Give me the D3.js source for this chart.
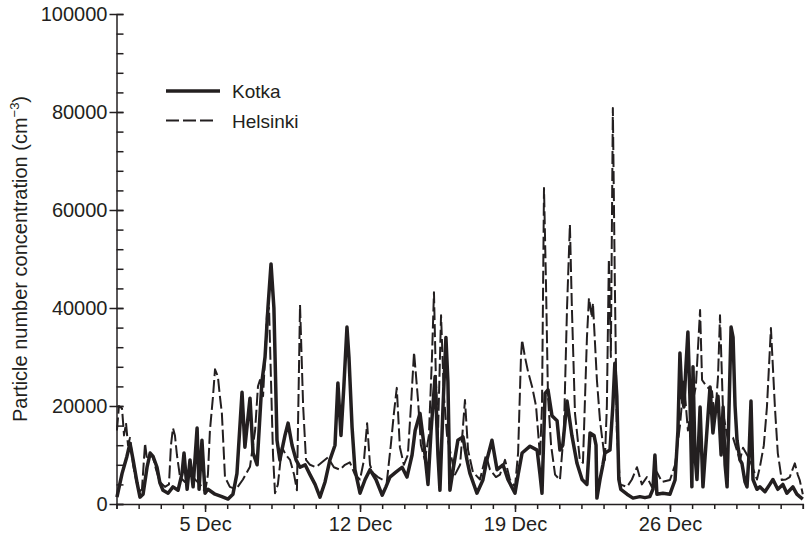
<!DOCTYPE html>
<html>
<head>
<meta charset="utf-8">
<script src="https://d3js.org/d3.v7.min.js"></script>
<style>
    body { margin: 0; background: #fff; }
    svg text { font-family: "Liberation Sans", Arial, sans-serif; fill: #231f20; }
    .axis path, .axis line { stroke: #231f20; stroke-width: 1.5; }
    .axis text { font-size: 20px; }
    .line { fill: none; stroke: #231f20; stroke-linejoin: round; }
    .kotka { stroke-width: 3.5; }
    .helsinki { stroke-width: 2; stroke-dasharray: 13, 4; }
</style>
</head>
<body>
<div id="chart"></div>
<script>
// time in days since 1 Dec 00:00, values in cm-3
let kotkaDays = [
    0.02, 0.25, 0.47, 0.61, 0.75, 0.93, 1.06, 1.20, 1.38, 1.52,
    1.65, 1.83, 1.96, 2.10, 2.33, 2.55, 2.78, 2.96, 3.05, 3.19,
    3.32, 3.46, 3.64, 3.73, 3.86, 4.00, 4.13, 4.45, 4.76, 5.04,
    5.26, 5.44, 5.67, 5.80, 6.03, 6.17, 6.35, 6.57, 6.71, 6.84,
    6.98, 7.11, 7.25, 7.38, 7.61, 7.75, 7.93, 8.11, 8.29, 8.52,
    8.74, 8.97, 9.19, 9.42, 9.64, 9.87, 10.00, 10.14, 10.27, 10.41,
    10.50, 10.64, 10.77, 11.00, 11.23, 11.45, 11.72, 12.00, 12.17, 12.35,
    12.62, 12.90, 13.12, 13.35, 13.49, 13.71, 13.89, 14.07, 14.21, 14.39,
    14.52, 14.61, 14.75, 14.88, 14.97, 15.06, 15.24, 15.42, 15.65, 15.83,
    15.96, 16.28, 16.55, 16.73, 16.96, 17.19, 17.46, 17.68, 18.00, 18.14,
    18.32, 18.68, 19.00, 19.13, 19.22, 19.36, 19.49, 19.67, 19.90, 20.03,
    20.16, 20.35, 20.57, 20.80, 21.03, 21.25, 21.39, 21.57, 21.66, 21.70,
    21.84, 21.97, 22.06, 22.29, 22.42, 22.51, 22.60, 22.69, 22.78, 23.06,
    23.33, 23.64, 23.87, 24.09, 24.23, 24.32, 24.41, 24.68, 25.00, 25.23,
    25.36, 25.45, 25.54, 25.63, 25.72, 25.81, 25.90, 25.99, 26.04, 26.13,
    26.22, 26.36, 26.49, 26.67, 26.81, 26.94, 27.08, 27.17, 27.31, 27.40,
    27.49, 27.58, 27.67, 27.76, 27.85, 27.94, 28.03, 28.16, 28.25, 28.39,
    28.48, 28.57, 28.66, 28.75, 28.93, 29.06, 29.29, 29.51, 29.65, 29.87,
    30.10, 30.28, 30.55, 30.73, 30.86, 31.00
];
let kotkaValues = [
    1400, 6200, 9700, 12400, 9000, 4300, 1400, 2000, 7500, 10400,
    9700, 7500, 4300, 2800, 2200, 3500, 2800, 6200, 10400, 3000,
    9000, 3500, 15500, 3000, 13000, 2200, 3000, 2000, 1500, 1000,
    2000, 6200, 22800, 11600, 21600, 10400, 8000, 25000, 30000, 40000,
    49000, 40000, 13000, 9000, 14000, 16500, 12000, 9000, 7500, 8000,
    6000, 4000, 1400, 4500, 9000, 12000, 24700, 14000, 24000, 36100,
    30000, 15700, 7000, 2200, 5000, 7000, 5000, 1800, 3500, 5500,
    6500, 7500, 5500, 10000, 15000, 18500, 12000, 4000, 15000, 26000,
    10000, 2800, 20000, 34000, 25000, 2800, 8000, 13000, 13700, 9000,
    6300, 2200, 4900, 9000, 13000, 7000, 8000, 5000, 2200, 6000,
    10400, 11800, 11000, 6000, 2200, 22600, 23300, 18000, 17000, 11000,
    12000, 21000, 14000, 8300, 5000, 4000, 14500, 14000, 12000, 1200,
    5000, 8000, 10400, 11000, 20000, 28700, 22000, 5000, 3000, 2000,
    1200, 1500, 1300, 1500, 3000, 10000, 2000, 2200, 2000, 4900,
    15000, 30800, 22000, 19800, 28000, 35100, 22000, 3500, 28000, 10000,
    5000, 19800, 3500, 15000, 23900, 14500, 20000, 22000, 10000, 19800,
    8000, 3500, 20000, 36100, 34000, 20000, 13000, 9000, 8300, 4500,
    3500, 10000, 21000, 5000, 3000, 3500, 2500, 4000, 5000, 3000,
    4000, 2200, 3500, 2000, 1500, 1000
];
let helsinkiDays = [
    0.02, 0.11, 0.25, 0.34, 0.43, 0.52, 0.61, 0.75, 0.88, 1.02,
    1.15, 1.29, 1.38, 1.52, 1.65, 1.79, 1.96, 2.19, 2.37, 2.46,
    2.55, 2.64, 2.73, 2.87, 3.09, 3.32, 3.55, 3.77, 4.00, 4.13,
    4.22, 4.36, 4.45, 4.58, 4.67, 4.76, 4.90, 5.12, 5.40, 5.71,
    6.03, 6.26, 6.39, 6.48, 6.62, 6.71, 6.80, 6.89, 6.98, 7.07,
    7.16, 7.29, 7.47, 7.65, 7.84, 8.02, 8.15, 8.29, 8.43, 8.56,
    8.74, 9.01, 9.28, 9.55, 9.82, 10.09, 10.32, 10.54, 10.77, 11.00,
    11.18, 11.32, 11.45, 11.59, 11.81, 12.00, 12.21, 12.39, 12.53, 12.66,
    12.80, 12.98, 13.16, 13.30, 13.44, 13.62, 13.75, 13.93, 14.11, 14.25,
    14.34, 14.43, 14.52, 14.66, 14.79, 14.93, 15.06, 15.29, 15.52, 15.74,
    15.88, 16.10, 16.42, 16.69, 16.87, 17.14, 17.32, 17.55, 17.77, 18.00,
    18.14, 18.27, 18.32, 18.45, 18.59, 18.77, 18.95, 19.13, 19.22, 19.31,
    19.40, 19.49, 19.63, 19.81, 20.03, 20.21, 20.35, 20.48, 20.57, 20.71,
    20.93, 21.07, 21.25, 21.34, 21.48, 21.52, 21.70, 21.84, 22.06, 22.15,
    22.24, 22.33, 22.42, 22.51, 22.60, 22.74, 23.06, 23.28, 23.51, 23.73,
    23.96, 24.18, 24.41, 24.64, 25.00, 25.23, 25.45, 25.63, 25.81, 25.99,
    26.17, 26.36, 26.45, 26.67, 26.90, 27.03, 27.17, 27.26, 27.40, 27.62,
    27.85, 28.16, 28.30, 28.61, 28.93, 29.06, 29.24, 29.38, 29.56, 29.74,
    29.87, 30.05, 30.23, 30.41, 30.64, 30.77, 30.86, 31.00
];
let helsinkiValues = [
    15000, 20000, 19500, 14000, 16500, 12000, 13500, 8000, 5000, 2500,
    3000, 12400, 9000, 10000, 9500, 7000, 4500, 3500, 4000, 12000,
    15500, 14000, 10000, 5500, 4500, 6000, 5000, 4000, 2500, 6000,
    15000, 22000, 27500, 26000, 22000, 18500, 5500, 3500, 3000, 5000,
    7600, 15000, 24000, 25300, 22000, 30000, 39000, 40000, 25000, 10000,
    2200, 4000, 11600, 10000, 9000, 6000, 2800, 40600, 20000, 9000,
    8000, 7500, 8500, 9500, 7500, 7000, 8000, 8500, 6000, 5000,
    9000, 16500, 8000, 6300, 5500, 5000, 4500, 12000, 18500, 23700,
    11600, 8000, 10000, 20000, 31000, 21200, 12000, 9000, 14000, 30000,
    43200, 25000, 14000, 38500, 22000, 14000, 11000, 6000, 8000, 21200,
    11000, 6500, 5000, 10000, 7000, 5500, 6000, 9000, 5000, 3500,
    10400, 30000, 33500, 30000, 27000, 24000, 20000, 9700, 20000, 64500,
    45000, 22000, 12000, 6000, 4900, 15000, 40000, 57000, 40000, 18500,
    9000, 8400, 34000, 42000, 38000, 41000, 25300, 17000, 9000, 20000,
    50000, 30000, 80800, 45000, 15000, 4000, 3500, 5000, 7500, 4000,
    5500, 3500, 6500, 4500, 4900, 8000, 16000, 25000, 15000, 20000,
    24000, 39600, 25300, 23900, 23000, 17000, 26000, 38500, 18500, 13000,
    13500, 9000, 11500, 9000, 5000, 7500, 12000, 19800, 35900, 19800,
    10400, 4900, 5000, 5500, 8300, 6000, 4900, 2000
];
let yTicks = [0, 20000, 40000, 60000, 80000, 100000];
let xLabelDays = [5, 12, 19, 26];
let seriesNames = ['Kotka', 'Helsinki'];

let svgWidth = 806, svgHeight = 541;
let margin = {top: 14, right: 3.2, bottom: 37, left: 116.5},
    chartWidth = svgWidth - margin.left - margin.right,
    chartHeight = svgHeight - margin.top - margin.bottom;

let start = Date.UTC(2004, 11, 1);
function toDate(d) {
    return new Date(start + d * 864e5);
}

let x = d3.scaleUtc().range([0, chartWidth])
        .domain([toDate(0), toDate(31)]),
    y = d3.scaleLinear().range([chartHeight, 0]).domain([0, 100000]);

let svg = d3.select('#chart').append('svg')
    .attr('width', svgWidth)
    .attr('height', svgHeight)
    .append('g')
    .attr('transform', 'translate(' + margin.left + ',' + margin.top + ')');

// x axis: daily minor ticks, labelled weekly majors
svg.append('g')
    .attr('class', 'x axis minor')
    .attr('transform', 'translate(0,' + chartHeight + ')')
    .call(d3.axisBottom(x).ticks(d3.utcDay.every(1)).tickSize(5).tickFormat(''));

svg.append('g')
    .attr('class', 'x axis major')
    .attr('transform', 'translate(0,' + chartHeight + ')')
    .call(d3.axisBottom(x)
        .tickValues(xLabelDays.map(function (d) { return toDate(d - 1); }))
        .tickSize(8).tickPadding(5)
        .tickFormat(d3.utcFormat('%-d %b')))
    .call(function (g) { g.select('.domain').remove(); });

// y axis: minor ticks inside, major ticks crossing the axis
svg.append('g')
    .attr('class', 'y axis minor')
    .call(d3.axisRight(y).tickValues(d3.range(0, 100001, 4000)).tickSize(7).tickFormat(''))
    .call(function (g) { g.select('.domain').remove(); });

svg.append('g')
    .attr('class', 'y axis major')
    .call(d3.axisLeft(y).tickValues(yTicks).tickSizeInner(7).tickSizeOuter(0).tickPadding(2)
        .tickFormat(d3.format('d')))
    .call(function (g) { g.selectAll('.tick line').attr('x2', -7).attr('x1', 7); });

svg.append('text')
    .attr('transform', 'rotate(-90)')
    .attr('x', -chartHeight / 2)
    .attr('y', -margin.left + 27)
    .style('text-anchor', 'middle')
    .style('font-size', '20px')
    .text('Particle number concentration (cm')
    .call(function (t) {
        t.append('tspan').attr('dy', -8).style('font-size', '13px').text('\u22123');
        t.append('tspan').attr('dy', 8).text(')');
    });

let line = d3.line()
    .x(function (d) { return x(toDate(d[0])); })
    .y(function (d) { return y(d[1]); });

let helsinki = d3.zip(helsinkiDays, helsinkiValues),
    kotka = d3.zip(kotkaDays, kotkaValues);

svg.append('path')
    .datum(helsinki)
    .attr('class', 'line helsinki')
    .attr('d', line);

svg.append('path')
    .datum(kotka)
    .attr('class', 'line kotka')
    .attr('d', line);

// legend
let legend = svg.append('g')
    .attr('transform', 'translate(' + (166 - margin.left) + ',' + (91 - margin.top) + ')');

legend.append('line')
    .attr('class', 'line kotka')
    .attr('x1', 0).attr('x2', 54).attr('y1', 0).attr('y2', 0);
legend.append('line')
    .attr('class', 'line helsinki')
    .attr('x1', 0).attr('x2', 50).attr('y1', 29.5).attr('y2', 29.5);

legend.selectAll('text.legend').data(seriesNames)
    .enter()
    .append('text')
    .attr('class', 'legend')
    .attr('x', 66)
    .attr('y', function (d, i) { return i * 29.5 + 7; })
    .style('font-size', '19px')
    .text(function (d) { return d; });
</script>
</body>
</html>
